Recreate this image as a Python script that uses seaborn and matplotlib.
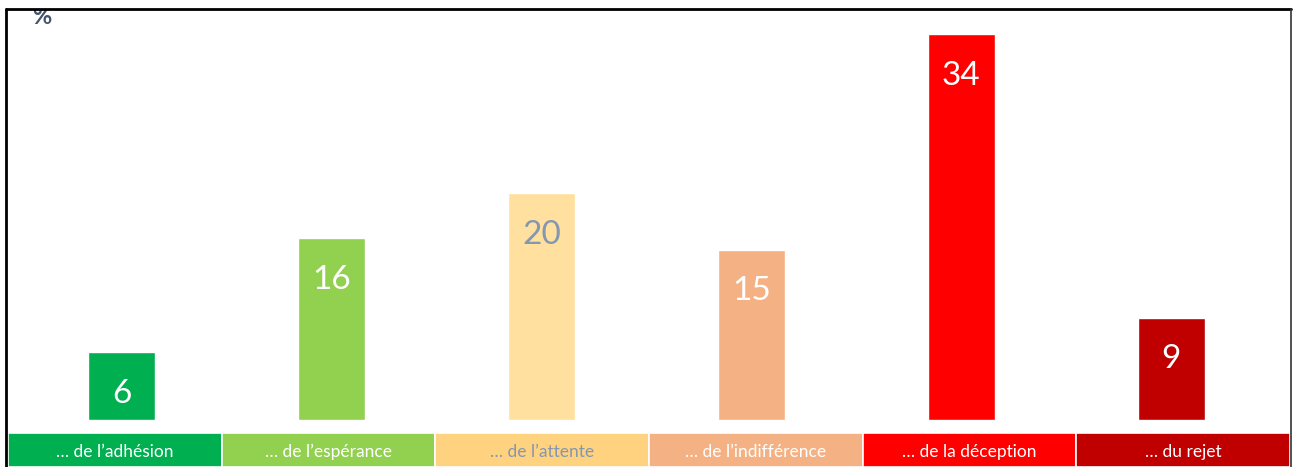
import seaborn as sns
import matplotlib.pyplot as plt
from matplotlib.lines import Line2D
from matplotlib.patches import Rectangle

sns.set_style("white")
plt.rcParams['font.family'] = ['Lato', 'DejaVu Sans']

categories = ["… de l’adhésion", "… de l’espérance", "… de l’attente",
              "… de l’indifférence", "… de la déception", "… du rejet"]
values = [6, 16, 20, 15, 34, 9]
bar_colors = ['#00B050', '#92D050', '#FFE09F', '#F4B183', '#FF0000', '#C00000']
box_colors = ['#00B050', '#92D050', '#FFD27F', '#F4B183', '#FF0000', '#C00000']
text_colors = ['white', 'white', '#8497B0', 'white', 'white', 'white']

W, H = 1294, 467
fig = plt.figure(figsize=(W / 100, H / 100), dpi=100)

# main bar area (pixel box converted to figure fractions)
ax = fig.add_axes([17 / W, (H - 420) / H, (1276 - 17) / W, (420 - 9) / H])
sns.barplot(x=categories, y=values, hue=categories, palette=bar_colors,
            width=0.32, legend=False, saturation=1, ax=ax)
ax.set_xlim(-0.5, 5.5)
ax.set_ylim(0, 36.2)
ax.axis('off')
for i, v in enumerate(values):
    ax.annotate(str(v), (i, v), xytext=(0, -30), textcoords='offset points',
                ha='center', va='center', fontsize=24, color=text_colors[i])

# category boxes along the bottom
bx = fig.add_axes([8 / W, 0, (1290 - 8) / W, (467 - 433) / H])
bx.bar(range(len(categories)), [1] * len(categories), width=1,
       color=box_colors, edgecolor='white', linewidth=1.2)
bx.set_xlim(-0.5, 5.5)
bx.set_ylim(0, 1)
bx.axis('off')
for i, c in enumerate(categories):
    bx.text(i, 0.45, c, ha='center', va='center', fontsize=12.5,
            color=text_colors[i])

# "%" unit label, its top hidden by the frame
fig.text(32 / W, 1 - 24 / H, "%", ha='left', va='baseline', fontsize=17,
         fontweight='bold', color='#44546A')
fig.patches.append(Rectangle((0, 1 - 9 / H), 1, 9 / H, transform=fig.transFigure,
                             facecolor='white', edgecolor='none', zorder=5))

# frame
fig.add_artist(Line2D([6 / W, 6 / W], [0, 1 - 9 / H], color='black', lw=2, zorder=6))
fig.add_artist(Line2D([6 / W, 1291 / W], [1 - 9 / H, 1 - 9 / H], color='black', lw=2, zorder=6))
fig.add_artist(Line2D([1291 / W, 1291 / W], [0, 1 - 9 / H], color='#333333', lw=1.2, zorder=6))

plt.savefig("out.png", dpi=100)
